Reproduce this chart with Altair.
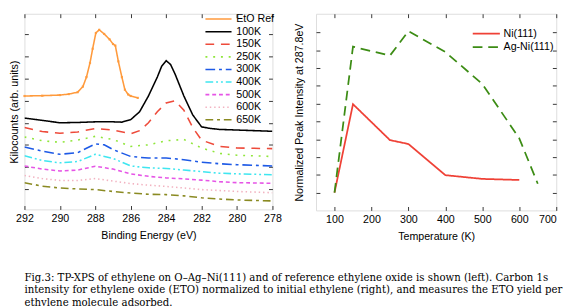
import altair as alt
import pandas as pd

# ---------------- Left panel: TP-XPS spectra ----------------
series_names = ["EtO Ref", "100K", "150K", "250K", "300K", "400K", "500K", "600K", "650K"]

eto_ev = [292.0, 291.0, 290.0, 289.5, 289.0, 288.7, 288.5, 288.3, 288.15, 287.97, 287.78,
          287.5, 287.2, 287.0, 286.87, 286.7, 286.5, 286.33, 286.15, 286.0, 285.6]
eto_val = [360, 361, 363, 366, 372, 390, 420, 465, 510, 560, 570,
           557, 540, 525, 520, 470, 420, 380, 365, 360, 354]

k100_ev = [292, 291.3, 290, 289, 288, 287, 286.5, 286, 285.5, 285, 284.5, 284.25, 284,
           283.75, 283.5, 283, 282.5, 282, 281.5, 281, 280, 278]
k100_val = [290, 285, 275, 276, 278, 278, 277, 285, 310, 360, 420, 455, 472,
            460, 430, 360, 300, 262, 257, 254, 252, 248]

k150_ev = [292, 291, 290, 289, 288, 287, 286, 285.5, 285, 284.5, 284, 283.5, 283, 282.5,
           282, 281, 280, 278]
k150_val = [260, 247, 242, 246, 257, 252, 240, 250, 275, 310, 338, 345, 315, 260,
            220, 200, 195, 193]

common_ev = [292, 291, 290, 289, 288, 287, 286, 285, 284, 283, 282, 281, 280, 278]
k250_val = [230, 218, 213, 220, 232, 222, 200, 205, 218, 222, 195, 178, 172, 168]

k300_ev = [292, 291, 290, 289, 288, 287.5, 287, 286, 285, 284, 283, 282, 281, 280, 278]
k300_val = [198, 185, 175, 180, 208, 205, 190, 168, 163, 163, 158, 150, 145, 142, 138]

k400_val = [170, 155, 148, 152, 175, 162, 138, 132, 130, 125, 120, 115, 113, 110]
k500_val = [138, 128, 122, 125, 137, 128, 113, 105, 100, 97, 93, 88, 85, 83]
k600_val = [108, 98, 92, 92, 98, 90, 82, 77, 73, 68, 63, 60, 57, 53]
k650_val = [85, 74, 68, 65, 63, 57, 52, 48, 47, 43, 37, 33, 30, 27]

left_colors = ["#FF9A3C", "#000000", "#EE4B3B", "#8FE63A", "#1E5AE6",
               "#3FE6F0", "#E655E6", "#F2B2C0", "#8A8A22"]
left_dashes = [[1, 0], [1, 0], [9, 7], [2, 6], [10, 4, 3, 4],
               [8, 3, 2, 3, 2, 3], [4, 3], [1.5, 3], [8, 4, 3, 4]]

x_ticks_left = [292, 290, 288, 286, 284, 282, 280, 278]
y_ticks_left = [65, 135, 205, 275, 345, 415, 485, 555]

# ---------------- Right panel: normalized intensity ----------------
ni_temp = [100, 150, 250, 300, 400, 500, 600]
ni_val = [1.0, 5.97, 3.95, 3.73, 1.98, 1.77, 1.71]
ag_temp = [100, 150, 250, 300, 400, 500, 600, 650]
ag_val = [1.0, 9.2, 8.7, 10.07, 8.9, 7.1, 4.05, 1.5]

right_names = ["Ni(111)", "Ag-Ni(111)"]
right_colors = ["#EF4136", "#3C8C14"]
right_dashes = [[1, 0], [10, 6]]
x_ticks_right = [100, 200, 300, 400, 500, 600, 700]
y_ticks_right = [1, 2, 3, 4, 5, 6, 7, 8, 9, 10]

caption = [
    "Fig.3: TP-XPS of ethylene on O\u2013Ag\u2013Ni(111) and of reference ethylene oxide is shown (left). Carbon 1s",
    "intensity for ethylene oxide (ETO) normalized to initial ethylene (right), and measures the ETO yield per",
    "ethylene molecule adsorbed.",
]

# ---------------- build tables ----------------
rows = []
pairs = [(eto_ev, eto_val), (k100_ev, k100_val), (k150_ev, k150_val), (common_ev, k250_val),
         (k300_ev, k300_val), (common_ev, k400_val), (common_ev, k500_val),
         (common_ev, k600_val), (common_ev, k650_val)]
for name, (xs, ys) in zip(series_names, pairs):
    for i, (a, b) in enumerate(zip(xs, ys)):
        rows.append({"series": name, "eV": a, "val": b, "order": i})
df_left = pd.DataFrame(rows)

rrows = []
for i, (t, v) in enumerate(zip(ni_temp, ni_val)):
    rrows.append({"series": "Ni(111)", "T": t, "v": v, "order": i})
for i, (t, v) in enumerate(zip(ag_temp, ag_val)):
    rrows.append({"series": "Ag-Ni(111)", "T": t, "v": v, "order": i})
df_right = pd.DataFrame(rrows)

df_cap = pd.DataFrame({"line": caption, "i": list(range(len(caption)))})

FONT = "Liberation Sans"


def in_axis(orient, values, labels=False, title=None, title_pad=5, label_pad=3, flush=False):
    kw = dict(orient=orient, values=values, offset=-4, tickSize=4, domain=False,
              grid=False, labels=labels, tickColor="#333333", tickWidth=1,
              minExtent=0, maxExtent=200)
    if labels:
        kw.update(labelPadding=label_pad, format="d", labelFont=FONT, labelFontSize=11,
                  labelColor="black", labelFlush=flush)
    if title:
        kw.update(title=title, titlePadding=title_pad, titleFont=FONT, titleFontSize=11,
                  titleFontWeight="normal", titleColor="black")
    else:
        kw.update(title=None)
    return alt.Axis(**kw)


left_legend = dict(orient="none", legendX=194.8, legendY=0, title=None,
                   symbolType="M-5,0H5", symbolSize=29, symbolStrokeWidth=1.6,
                   labelFont=FONT, labelFontSize=11, labelColor="black",
                   rowPadding=1, labelOffset=12.8, padding=0)
right_legend = dict(orient="none", legendX=170.3, legendY=15, title=None,
                    symbolType="M-5.2,0H5.2", symbolSize=29, symbolStrokeWidth=1.8,
                    labelFont=FONT, labelFontSize=11, labelColor="black",
                    rowPadding=2, labelOffset=12.3, padding=0)

xs_l = alt.Scale(domain=[278, 292], reverse=True, nice=False, zero=False)
ys_l = alt.Scale(domain=[0, 621], nice=False, zero=False)

lines_l = alt.Chart(df_left).mark_line(strokeWidth=1.6, clip=True).encode(
    x=alt.X("eV:Q", scale=xs_l,
            axis=in_axis("bottom", x_ticks_left, labels=True, title="Binding Energy (eV)",
                         title_pad=7)),
    y=alt.Y("val:Q", scale=ys_l,
            axis=in_axis("left", y_ticks_left, title="Kilocounts (arb. units)", title_pad=5)),
    color=alt.Color("series:N", scale=alt.Scale(domain=series_names, range=left_colors),
                    legend=alt.Legend(**left_legend)),
    strokeDash=alt.StrokeDash("series:N", scale=alt.Scale(domain=series_names, range=left_dashes),
                              legend=alt.Legend(**left_legend)),
    order="order:Q",
)

eto_pts = alt.Chart(df_left).transform_filter(alt.datum.series == "EtO Ref").mark_square(
    color="#FF9A3C", size=5, opacity=0.9).encode(
    x=alt.X("eV:Q", scale=xs_l, axis=None), y=alt.Y("val:Q", scale=ys_l, axis=None))

mirror_l = alt.Chart(df_left).mark_point(opacity=0).encode(
    x=alt.X("eV:Q", scale=xs_l, axis=in_axis("top", x_ticks_left)),
    y=alt.Y("val:Q", scale=ys_l, axis=in_axis("right", y_ticks_left)),
)

left = alt.layer(lines_l, mirror_l, eto_pts).resolve_axis(x="independent", y="independent").properties(
    width=256, height=202)

xs_r = alt.Scale(domain=[50, 700], nice=False, zero=False)
ys_r = alt.Scale(domain=[0, 11.05], nice=False, zero=False)

lines_r = alt.Chart(df_right).mark_line(strokeWidth=1.8).encode(
    x=alt.X("T:Q", scale=xs_r,
            axis=in_axis("bottom", x_ticks_right, labels=True, title="Temperature (K)",
                         title_pad=7, flush=True)),
    y=alt.Y("v:Q", scale=ys_r,
            axis=in_axis("left", y_ticks_right, title="Normalized Peak Intensity at 287.8eV",
                         title_pad=11)),
    color=alt.Color("series:N", scale=alt.Scale(domain=right_names, range=right_colors),
                    legend=alt.Legend(**right_legend)),
    strokeDash=alt.StrokeDash("series:N", scale=alt.Scale(domain=right_names, range=right_dashes),
                              legend=alt.Legend(**right_legend)),
    order="order:Q",
)

mirror_r = alt.Chart(df_right).mark_point(opacity=0).encode(
    x=alt.X("T:Q", scale=xs_r, axis=in_axis("top", x_ticks_right)),
    y=alt.Y("v:Q", scale=ys_r, axis=in_axis("right", y_ticks_right)),
)

right = alt.layer(lines_r, mirror_r).resolve_axis(x="independent", y="independent").properties(
    width=248, height=203)

cap = alt.Chart(df_cap).mark_text(align="left", baseline="middle", font="DejaVu Serif",
                                  fontSize=10.5, color="black").encode(
    x=alt.value(0),
    y=alt.Y("i:Q", axis=None,
            scale=alt.Scale(domain=[-0.5, 2.5], nice=False, zero=False, reverse=True)),
    text="line:N",
).properties(width=540, height=39, view=alt.ViewBackground(strokeWidth=0, stroke=None))

top = alt.hconcat(left, right, spacing=12).resolve_scale(color="independent", strokeDash="independent")

chart = alt.vconcat(top, cap, spacing=30).properties(padding=0).configure_view(
    stroke="#333333", strokeWidth=1).configure(background="white")

chart.save("out.html", embed_options={"renderer": "svg", "actions": False})
